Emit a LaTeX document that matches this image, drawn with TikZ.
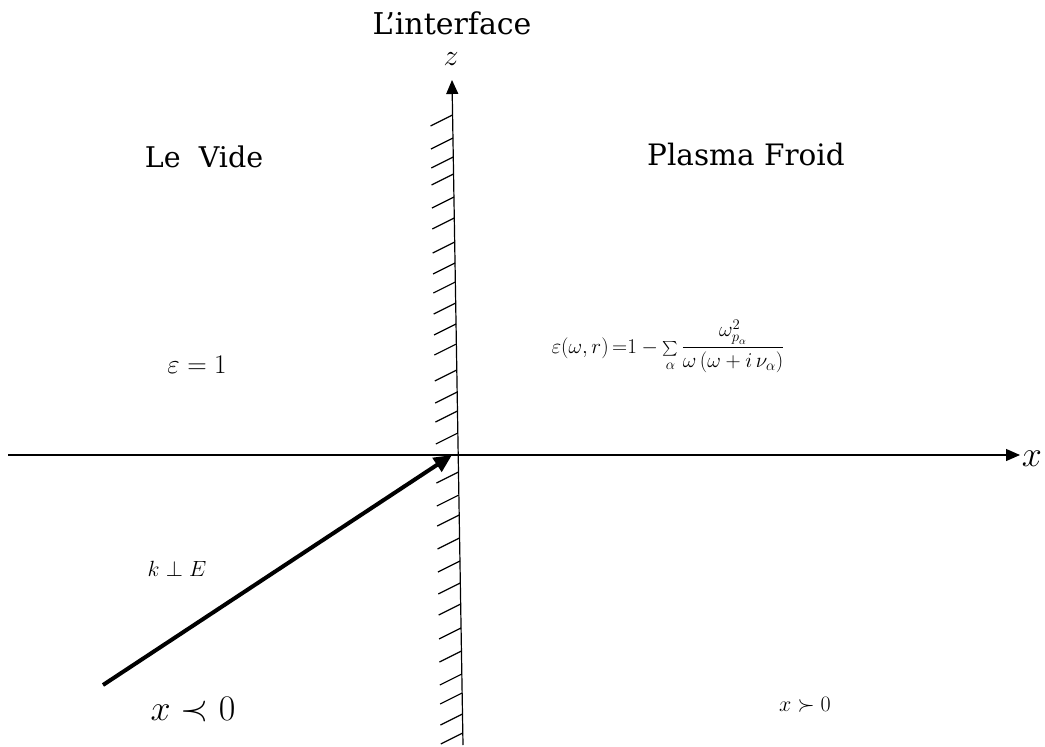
\RequirePackage{fix-cm}
\documentclass[tikz,border=0pt]{standalone}
\usepackage[no-math]{fontspec}
\setmainfont{DejaVu Serif}
\usepackage{amsmath,amssymb}
\usetikzlibrary{arrows.meta}
\tikzset{
  axis/.style={line width=1.2pt},
  hatch/.style={line width=1.2pt},
  lbl/.style={inner sep=0pt, anchor=base},
}
\newcommand{\fs}[1]{\fontsize{#1}{#1}\selectfont}
\begin{document}
\begin{tikzpicture}[x=1pt,y=-1pt]
\useasboundingbox (0,0) rectangle (1045,747);
% axes
\coordinate (xl) at (8,455);
\coordinate (xr) at (1020,455);
\coordinate (zb) at (463,745);
\coordinate (zt) at (452,80);
\draw[axis,-{Triangle[length=14pt,width=12pt]}] (xl) -- (xr);
\draw[axis,-{Triangle[length=14pt,width=12pt]}] (zb) -- (zt);
% hatches
\foreach \yy in {115,138,157,174,197,218,242,263,282,303,324,344,370,392,411,433,472,495,515,538,561,583,604,628,651,674,693,714,733}{
  \pgfmathsetmacro{\xx}{452+0.01654*(\yy-80)}
  \draw[hatch] (\xx,\yy) -- ++(-22,11);
}
% wave vector
\coordinate (ks) at (103,685);
\coordinate (ke) at (452,455);
\draw[line width=4pt,-{Triangle[length=18pt,width=16pt]}] (ks) -- (ke);
% labels
\node[lbl] (iface) at (452,34) {\fs{30}L’interface};
\node[lbl] (zl) at (451,65) {\fs{30}$z$};
\node[lbl] (xlab) at (1032,466) {\fs{36}$x$};
\node[lbl] (vide) at (204,167) {\fs{28.5}Le\ \ Vide};
\node[lbl] (plasma) at (746,165) {\fs{29.5}Plasma Froid};
\node[lbl] (eps) at (197,373) {\fs{27}$\varepsilon = 1$};
\node[lbl] (form) at (668,353) {\fs{21}$\varepsilon(\omega,r)\,{=}1-\mathop{\scriptstyle\sum}\limits_{\alpha}\dfrac{\omega^{2}_{p_{\alpha}}}{\omega\,(\omega+i\,\nu_{\alpha})}$};
\node[lbl] (kE) at (177,576) {\fs{22}$k\perp E$};
\node[lbl] (xneg) at (193,720) {\fs{36}$x\prec 0$};
\node[lbl] (xpos) at (805,711) {\fs{22}$x\succ 0$};
\end{tikzpicture}
\end{document}
